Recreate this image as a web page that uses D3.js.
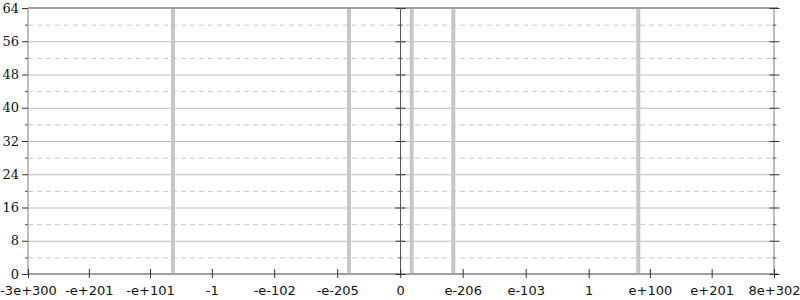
<!DOCTYPE html>
<html>
<head>
<meta charset="utf-8">
<script src="https://cdn.jsdelivr.net/npm/d3@7"></script>
<style>
  body { margin: 0; background: #fff; }
  svg { display: block; }
  .xlab { font-family: "DejaVu Sans", sans-serif; font-size: 13px; }
  .ylab { font-family: "DejaVu Serif", serif; font-size: 13px; }
</style>
</head>
<body>
<div id="chart"></div>
<script>
// tick values along x and their labels
var xTicks = [-3e300, -1e201, -1e101, -1, -1e-102, -1e-205, 0, 1e-206, 1e-103, 1, 1e100, 1e201, 8e302];
var xLabels = ["-3e+300", "-e+201", "-e+101", "-1", "-e-102", "-e-205", "0", "e-206", "e-103", "1", "e+100", "e+201", "8e+302"];
// positions of the vertical bars
var barValues = [-3e63, -6e-225, 5e-290, 5e-222, 1.3e81];
var yMajor = [0, 8, 16, 24, 32, 40, 48, 56, 64];
var yMinor = [4, 12, 20, 28, 36, 44, 52, 60];

function init() {
    var w = 800, h = 300;
    var left = 28, right = 774, top = 8, bottom = 274;

    // signed log transform, zero in the middle
    function tr(v) {
        if (v === 0) return 0;
        return Math.sign(v) * (Math.log10(Math.abs(v)) + 308);
    }

    var xScale = d3.scaleLinear()
        .domain([tr(xTicks[0]), tr(xTicks[xTicks.length - 1])])
        .range([left, right]);
    var x = function (v) { return xScale(tr(v)); };

    var yScale = d3.scaleLinear().domain([0, 64]).range([bottom, top]);

    var svg = d3.select("#chart").append("svg").attr("width", w).attr("height", h);

    // grid
    svg.append("g").selectAll("line").data(yMinor).enter().append("line")
        .attr("x1", left).attr("x2", right)
        .attr("y1", d => yScale(d) + 0.5).attr("y2", d => yScale(d) + 0.5)
        .attr("stroke", "#c8c8c8").attr("stroke-dasharray", "5,4");
    svg.append("g").selectAll("line").data(yMajor.slice(1, -1)).enter().append("line")
        .attr("x1", left).attr("x2", right)
        .attr("y1", d => yScale(d) + 0.5).attr("y2", d => yScale(d) + 0.5)
        .attr("stroke", "#bdbdbd");

    // bars
    svg.append("g").selectAll("line").data(barValues).enter().append("line")
        .attr("x1", d => x(d)).attr("x2", d => x(d))
        .attr("y1", yScale(0)).attr("y2", yScale(64))
        .attr("stroke", "#c6c6c6").attr("stroke-width", 4);

    // frame lines
    svg.append("line").attr("x1", left).attr("x2", right + 4)
        .attr("y1", top).attr("y2", top).attr("stroke", "#a0a0a0").attr("stroke-width", 2);
    svg.append("line").attr("x1", left).attr("x2", right + 4)
        .attr("y1", bottom).attr("y2", bottom).attr("stroke", "#a0a0a0").attr("stroke-width", 2);
    svg.append("line").attr("x1", left).attr("x2", left)
        .attr("y1", top).attr("y2", bottom).attr("stroke", "#bdbdbd").attr("stroke-width", 2);
    svg.append("line").attr("x1", right).attr("x2", right)
        .attr("y1", top).attr("y2", bottom).attr("stroke", "#bdbdbd").attr("stroke-width", 2);

    // left axis
    var yAxis = d3.axisLeft(yScale).tickValues(yMajor).tickSize(6).tickPadding(3);
    var gy = svg.append("g").attr("transform", "translate(" + left + ",0)").call(yAxis);
    gy.select(".domain").remove();
    gy.selectAll("line").attr("stroke", "#333");
    gy.selectAll("text").attr("class", "ylab").attr("font-family", null).attr("font-size", null).attr("fill", "#111");
    svg.append("g").selectAll("line").data(yMinor).enter().append("line")
        .attr("x1", left - 3).attr("x2", left)
        .attr("y1", d => yScale(d) + 0.5).attr("y2", d => yScale(d) + 0.5)
        .attr("stroke", "#555");

    // right and center axes: ticks on both sides
    [[right, 5], [x(0), 5]].forEach(function (a) {
        var cx = Math.round(a[0]) + 0.5;
        svg.append("g").selectAll("line").data(yMajor).enter().append("line")
            .attr("x1", cx - a[1]).attr("x2", cx + a[1])
            .attr("y1", d => yScale(d) + 0.5).attr("y2", d => yScale(d) + 0.5)
            .attr("stroke", "#333");
        svg.append("g").selectAll("line").data(yMinor).enter().append("line")
            .attr("x1", cx - 2).attr("x2", cx + 2)
            .attr("y1", d => yScale(d) + 0.5).attr("y2", d => yScale(d) + 0.5)
            .attr("stroke", "#555");
    });
    svg.append("line")
        .attr("x1", Math.round(x(0)) + 0.5).attr("x2", Math.round(x(0)) + 0.5)
        .attr("y1", top).attr("y2", bottom)
        .attr("stroke", "#555");

    // bottom axis
    var xAxis = d3.axisBottom(xScale)
        .tickValues(xTicks.map(tr))
        .tickFormat((d, i) => xLabels[i])
        .tickSize(5).tickPadding(7);
    var gx = svg.append("g").attr("transform", "translate(0," + bottom + ")").call(xAxis);
    gx.select(".domain").remove();
    gx.selectAll("line").attr("y1", -5).attr("y2", 4).attr("stroke", "#333");
    gx.selectAll("text").attr("class", "xlab").attr("font-family", null).attr("font-size", null).attr("fill", "#111");
}
window.onload = init;
</script>
</body>
</html>
